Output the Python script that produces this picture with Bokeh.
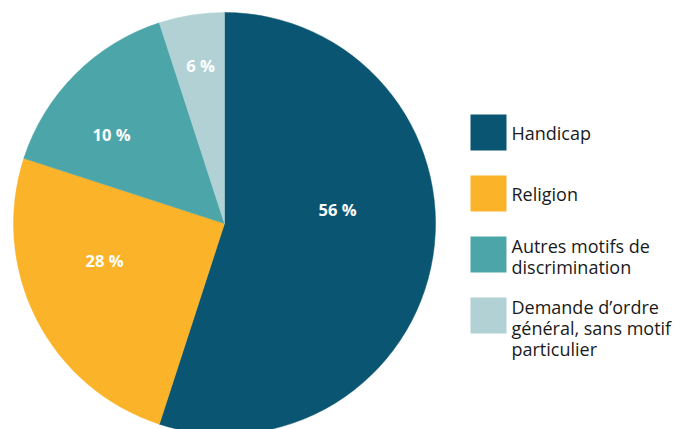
import math
from bokeh.plotting import figure
from bokeh.models import ColumnDataSource, Range1d
from bokeh.core.properties import value
from bokeh.embed import file_html
from bokeh.resources import INLINE

# ---- data ----
categories = ["Handicap", "Religion", "Autres motifs de\ndiscrimination",
              "Demande d\u2019ordre\ngénéral, sans motif\nparticulier"]
shares = [55, 25, 15, 5]           # slice sizes as drawn
pct_labels = ["56 %", "28 %", "10 %", "6 %"]
colors = ["#0a5672", "#fbb42a", "#4ca5a8", "#b1d1d5"]

# ---- layout ----
W, H = 678, 429
CX, CY, R = 224, H - 223, 211
label_px = [(337, 209), (104, 260), (111, 134), (200, 65)]
LEG_X, LEG_Y0, LEG_STEP, SQ = 488, 132, 61, 36
LINE_H = 21
FONT = "Open Sans"

total = float(sum(shares))
starts, ends = [], []
cum = 0.0
for s in shares:
    a0 = math.pi / 2 - 2 * math.pi * (cum + s) / total
    a1 = math.pi / 2 - 2 * math.pi * cum / total
    starts.append(a0)
    ends.append(a1)
    cum += s

src = ColumnDataSource(dict(start=starts, end=ends, color=colors))

p = figure(width=W, height=H, x_range=Range1d(0, W), y_range=Range1d(0, H),
           x_axis_type=None, y_axis_type=None, toolbar_location=None,
           output_backend="svg", min_border=0, outline_line_color=None)
p.grid.visible = False
p.background_fill_color = "white"
p.border_fill_color = "white"

p.wedge(x=CX, y=CY, radius=R, start_angle="start", end_angle="end",
        direction="anticlock", fill_color="color", line_color="color",
        line_width=0.5, source=src)

# percentage labels
p.text(x=[q[0] for q in label_px], y=[H - q[1] for q in label_px], text=pct_labels,
       text_color="white", text_font=value(FONT), text_font_style="bold",
       text_font_size="16.5px", text_align="center", text_baseline="middle")

# legend
lx, ly, lt = [], [], []
for i, cat in enumerate(categories):
    yc = LEG_Y0 + i * LEG_STEP
    p.rect(x=[LEG_X], y=[H - yc], width=SQ, height=SQ, fill_color=colors[i], line_color=None)
    lines = cat.split("\n")
    n = len(lines)
    first = max(yc - (n - 1) * LINE_H / 2.0, yc - SQ / 2 + 9)
    for j, ln in enumerate(lines):
        lx.append(LEG_X + SQ / 2 + 5)
        ly.append(H - (first + j * LINE_H))
        lt.append(ln)
p.text(x=lx, y=ly, text=lt, text_color="#1a1a1a", text_font=value(FONT),
       text_font_size="18px", text_align="left", text_baseline="middle")

open("out.html", "w").write(file_html(p, INLINE))
